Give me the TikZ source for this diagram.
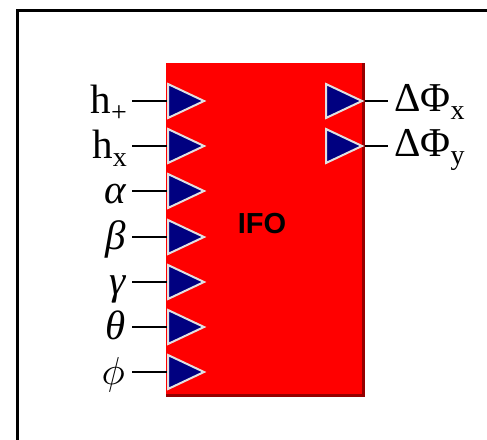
\documentclass[tikz,border=0pt]{standalone}
\usepackage{fontspec}
\usetikzlibrary{calc}
\setmainfont{Liberation Serif}
\newfontfamily\ifofont{Liberation Sans}
\definecolor{navy}{RGB}{0,0,128}
\definecolor{ifored}{RGB}{255,0,0}
\definecolor{ifodark}{RGB}{150,0,0}
\definecolor{tripale}{RGB}{225,225,225}
\newcommand{\lsub}[1]{\raisebox{-8pt}{\fontsize{28}{28}\selectfont #1}}
\newcommand{\bigphi}{{\fontsize{10}{12}\selectfont\scalebox{3.9}{$\phi$}}}
\begin{document}
\begin{tikzpicture}[x=1pt,y=-1pt,
  lbl/.style={inner sep=0pt,font=\fontsize{41}{48}\selectfont},
  wire/.style={line width=2pt,black},
  tri/.style={fill=navy,draw=tripale,line width=2pt,line join=miter},
  frameline/.style={line width=3pt,black}]
\useasboundingbox (0,0) rectangle (487,439);
\clip (0,0) rectangle (487,439);
% frame
\draw[frameline] (17,450) -- (17,10) -- (500,10);
% block
\fill[ifored] (166,63) rectangle (365,397);
\fill[ifodark] (362,63) rectangle (365,397);
\fill[ifodark] (166,394) rectangle (365,397);
\node[font=\ifofont\bfseries\fontsize{29}{29}\selectfont] (ifo) at (262,224) {IFO};
% input triangles and ports
\foreach \i/\y in {1/101,2/146,3/191,4/237,5/282,6/327,7/372}{
  \draw[tri] (168,\y-17) -- (204,\y) -- (168,\y+17) -- cycle;
  \coordinate (in\i) at (167,\y);
}
% output triangles and ports
\foreach \i/\y in {1/101,2/146}{
  \draw[tri] (326,\y-17) -- (362,\y) -- (326,\y+17) -- cycle;
  \coordinate (out\i) at (365,\y);
}
% input labels
\node[lbl,anchor=base east] (l1) at (127,113) {h\lsub{+}};
\node[lbl,anchor=base east] (l2) at (127,158) {h\lsub{x}};
\node[lbl,anchor=base east] (l3) at (126,203) {\itshape α};
\node[lbl,anchor=base east] (l4) at (126,249) {\itshape β};
\node[lbl,anchor=base east] (l5) at (126,294) {\itshape γ};
\node[lbl,anchor=base east] (l6) at (126,339) {\itshape θ};
\node[lbl,anchor=base east] (l7) at (125,384) {\bigphi};
\foreach \i/\y in {1/101,2/146,3/191,4/237,5/282,6/327,7/372}{
  \draw[wire] (132,\y) -- (in\i);
}
% output labels
\node[lbl,anchor=base west] (o1) at (394,111) {ΔΦ\lsub{x}};
\node[lbl,anchor=base west] (o2) at (394,156) {ΔΦ\lsub{y}};
\draw[wire] (out1) -- ($(o1.west |- out1)+(-6,0)$);
\draw[wire] (out2) -- ($(o2.west |- out2)+(-6,0)$);
\end{tikzpicture}
\end{document}
